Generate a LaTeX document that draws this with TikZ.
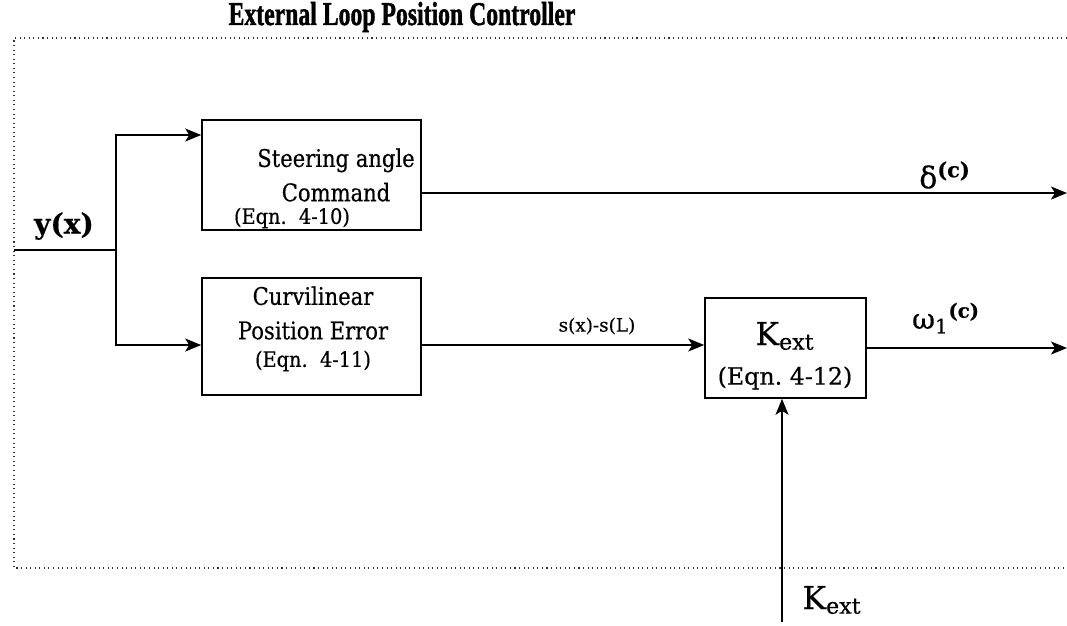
\documentclass[tikz,border=0pt]{standalone}
\usepackage{fontspec}
\setmainfont{DejaVu Serif}[FakeBold=0.5]
\newfontfamily\titlefont[FakeBold=1.5]{Liberation Serif}
\usetikzlibrary{arrows.meta,positioning}

\tikzset{
	blk/.style={draw, line width=0.9pt, inner sep=0pt},
	txt/.style={align=center, font=\fontsize{12}{17}\selectfont},
	eqn/.style={font=\fontsize{11}{13}\selectfont},
	sig/.style={line width=0.9pt, -{Stealth[length=3.2mm, width=2.6mm, inset=0.8mm]}},
	wire/.style={line width=0.9pt},
	frame/.style={dotted, line width=0.6pt, black!80}
}

\begin{document}
\begin{tikzpicture}[x=0.2mm, y=-0.2mm]
		\useasboundingbox (0,0) rectangle (1067,625);

		% title and dotted frame
		\node[font=\titlefont\bfseries\fontsize{13.5}{16}\selectfont, yscale=1.4, transform shape] (title) at (402,17) {External Loop Position Controller};
		\draw[frame] (1067,38) -- (14,38) -- (14,568) -- (1067,568);

		% blocks
		\node[blk, minimum width=43.8mm, minimum height=22mm] (steer) at (311.5,175) {};
		\node[blk, minimum width=43.8mm, minimum height=23.4mm] (poserr) at (311.5,336.5) {};
		\node[blk, minimum width=32.2mm, minimum height=20mm] (kext) at (785.5,348) {};

		\node[txt, yscale=1.15, transform shape] (steer-t) at (336,175) {Steering angle\\Command};
		\node[eqn, yscale=1.1, transform shape] (steer-eq) at (292,218) {(Eqn.~~4-10)};
		\node[txt, yscale=1.15, transform shape] (poserr-t) at (313,313) {Curvilinear\\Position Error};
		\node[eqn, yscale=1.1, transform shape] (poserr-eq) at (313,361) {(Eqn.~~4-11)};
		\node[font=\fontsize{18}{20}\selectfont] (kext-t) at (785,336) {K\textsubscript{ext}};
		\node[eqn, font=\fontsize{13.5}{15}\selectfont] (kext-eq) at (785,378) {(Eqn.~4-12)};

		% signals
		\coordinate (in) at (14,250);
		\coordinate (split) at (116,250);
		\coordinate (dout) at (1067,193);
		\coordinate (wout) at (1067,348);
		\coordinate (kin) at (782,622);
		\coordinate (e1) at ([yshift=-3.6mm]steer.east);
		\coordinate (e2) at ([yshift=-1.7mm]poserr.east);

		\draw[wire] (in) -- (split);
		\draw[sig] (split) |- ([yshift=8mm]steer.west);
		\draw[sig] (split) |- ([yshift=-1.7mm]poserr.west);
		\draw[sig] (e1) -- (e1 -| dout);
		\draw[sig] (e2) -- (e2 -| kext.west);
		\draw[sig] (kext.east) -- (kext.east -| wout);
		\draw[sig] (kin) -- (kin |- kext.south);

		% labels
		\node[font=\bfseries\fontsize{16}{18}\selectfont] (yx) at (64,226) {y(x)};
		\node[font=\fontsize{17}{19}\selectfont] (delta) at (945,175) {δ\textsuperscript{\bfseries(c)}};
		\node[font=\fontsize{10.5}{12}\selectfont] (sdiff) at (597,326) {s(x)-s(L)};
		\node[font=\fontsize{16}{18}\selectfont] (omega) at (946,318) {ω\textsubscript{1}\textsuperscript{\bfseries(c)}};
		\node[font=\fontsize{18}{20}\selectfont] (kin-t) at (832,600) {K\textsubscript{ext}};
	\end{tikzpicture}
\end{document}
